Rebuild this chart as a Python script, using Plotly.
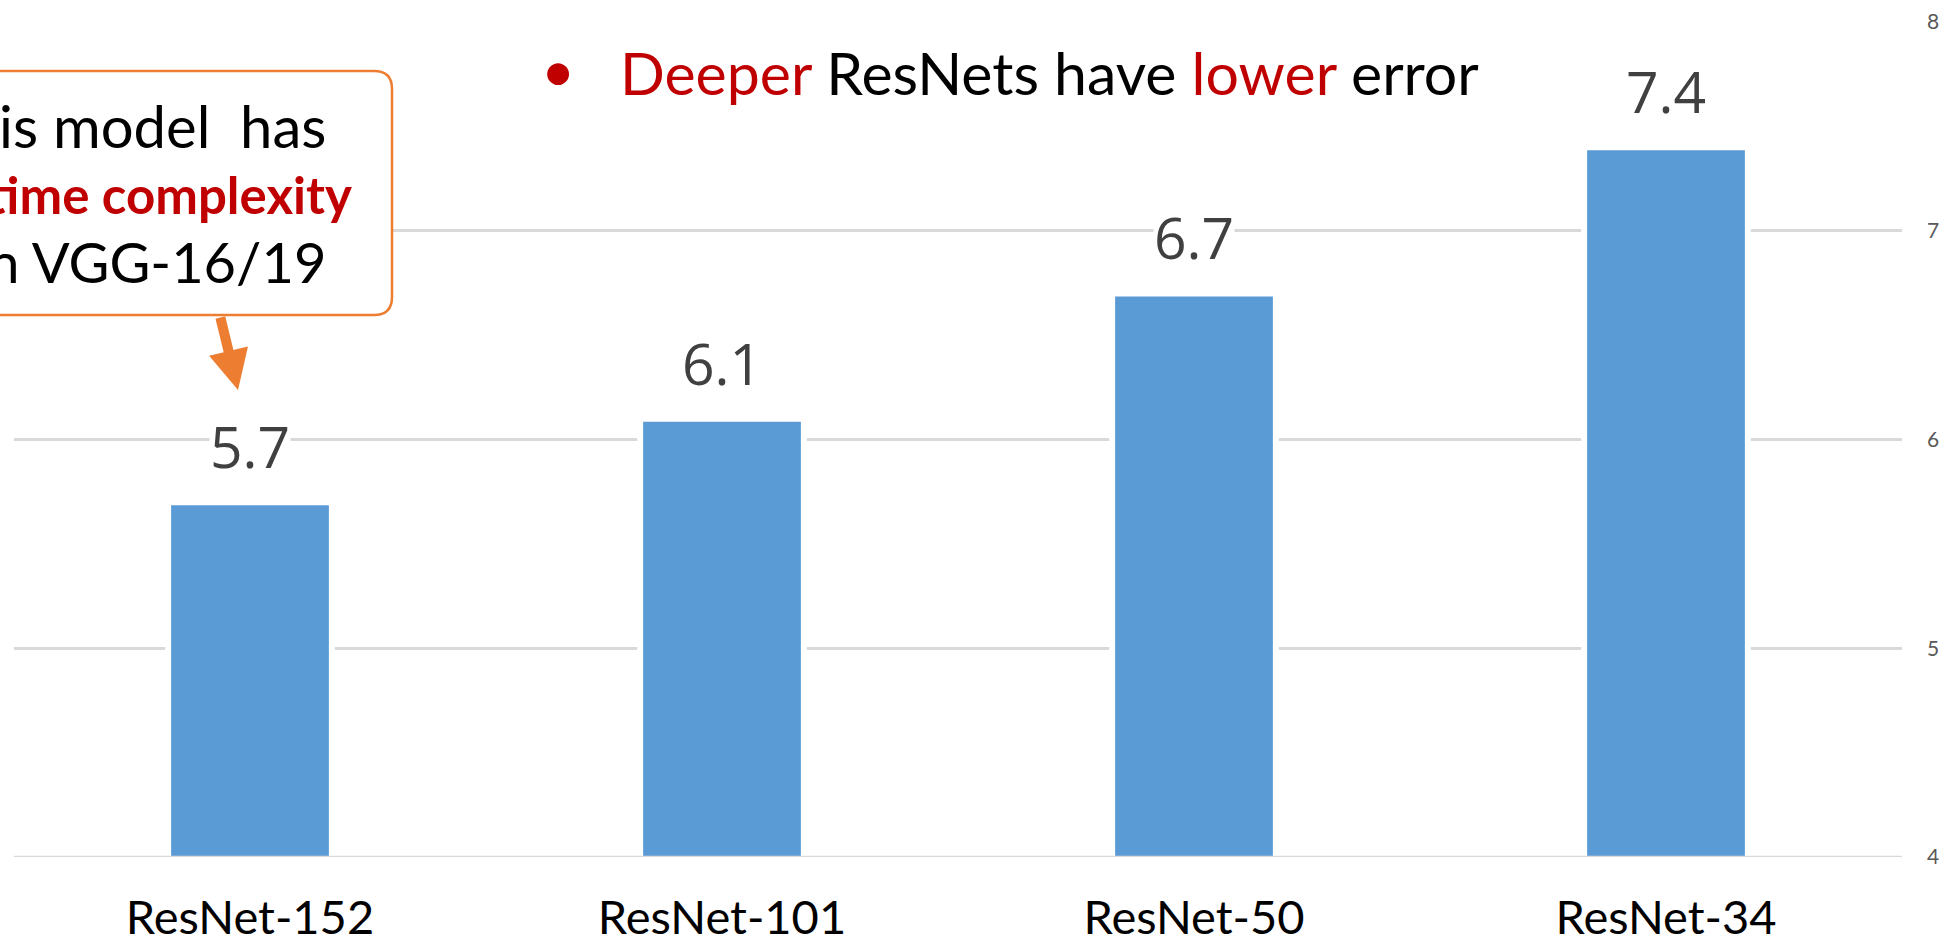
import plotly.graph_objects as go

# ImageNet top-5 error (%) by ResNet depth
models = ["ResNet-152", "ResNet-101", "ResNet-50", "ResNet-34"]
top5_error = [5.7, 6.1, 6.7, 7.4]
y_ticks = [4, 5, 6, 7, 8]

BAR_BLUE = "#5B9BD5"
GRID_GREY = "#D9D9D9"
ORANGE = "#ED7D31"
DARK_RED = "#C00000"

W, H = 1950, 945
M_L, M_R, M_T, M_B = 14, 48, 22, 88
PLOT_W = W - M_L - M_R
PLOT_H = H - M_T - M_B


def px(x):
    """Page pixel x -> paper coordinate."""
    return (x - M_L) / PLOT_W


def py(y):
    """Page pixel y -> paper coordinate."""
    return (H - M_B - y) / PLOT_H


fig = go.Figure(
    go.Bar(
        x=models,
        y=top5_error,
        base=0,
        marker=dict(color=BAR_BLUE, line=dict(color="white", width=6)),
        hoverinfo="skip",
    )
)

# value labels sitting above each bar on a white patch
for m, v in zip(models, top5_error):
    fig.add_annotation(
        x=m, y=v, xref="x", yref="y",
        text=f"{v:.1f}", showarrow=False,
        yanchor="middle", yshift=56,
        bgcolor="white", borderpad=0,
        font=dict(family="Open Sans", size=57, color="#404040"),
    )

# headline bullet
fig.add_annotation(
    x=px(558), y=py(70), xref="paper", yref="paper",
    text="•", showarrow=False, xanchor="center", yanchor="middle",
    font=dict(family="Lato", size=59, color=DARK_RED),
)
fig.add_annotation(
    x=px(618), y=py(73), xref="paper", yref="paper",
    text=(f"<span style='color:{DARK_RED}'>Deeper</span> ResNets have "
          f"<span style='color:{DARK_RED}'>lower</span> error"),
    showarrow=False, xanchor="left", yanchor="middle",
    font=dict(family="Lato", size=59, color="black"),
)

# callout box with rounded right corners
x0, x1, y0, y1, r = -60, 392, 71, 315, 18
box_path = (
    f"M {px(x0)},{py(y0)} L {px(x1 - r)},{py(y0)} "
    f"Q {px(x1)},{py(y0)} {px(x1)},{py(y0 + r)} "
    f"L {px(x1)},{py(y1 - r)} "
    f"Q {px(x1)},{py(y1)} {px(x1 - r)},{py(y1)} "
    f"L {px(x0)},{py(y1)} Z"
)
fig.add_shape(
    type="path", path=box_path, xref="paper", yref="paper",
    line=dict(color=ORANGE, width=2.5), fillcolor="white", layer="above",
)

callout_lines = [
    ("This model&nbsp;&nbsp;has", "black", False, 58, 328, 126),
    ("lower time complexity", DARK_RED, True, 51, 354, 194),
    ("than VGG-16/19", "black", False, 56, 328, 261),
]
for txt, col, bold, size, xr, yc in callout_lines:
    fig.add_annotation(
        x=px(xr), y=py(yc), xref="paper", yref="paper",
        text=f"<b>{txt}</b>" if bold else txt,
        showarrow=False, xanchor="right", yanchor="middle",
        font=dict(family="Lato", size=size, color=col),
    )

# pointer from the callout down to the ResNet-152 bar
fig.add_annotation(
    x=px(238), y=py(390), xref="paper", yref="paper",
    text="", showarrow=True,
    ax=-18, ay=-74, axref="pixel", ayref="pixel",
    arrowhead=2, arrowsize=0.8, arrowwidth=10, arrowcolor=ORANGE,
    standoff=0,
)

# baseline redrawn over the bar outlines
fig.add_shape(
    type="line", xref="paper", yref="y", x0=0, x1=1, y0=4, y1=4,
    line=dict(color=GRID_GREY, width=2.5), layer="above",
)

fig.update_layout(
    width=W, height=H, autosize=False,
    margin=dict(l=M_L, r=M_R, t=M_T, b=M_B, autoexpand=False),
    paper_bgcolor="white", plot_bgcolor="white",
    showlegend=False, bargap=0.653,
    xaxis=dict(
        type="category", showgrid=False, zeroline=False, showline=False,
        ticks="", ticklabelstandoff=29, automargin=False,
        tickfont=dict(family="Lato", size=47, color="black"),
    ),
    yaxis=dict(
        side="right", range=[4, 8], tickvals=y_ticks,
        showgrid=True, gridcolor=GRID_GREY, gridwidth=2.5,
        zeroline=False, showline=False, ticks="", ticklabelstandoff=24,
        automargin=False,
        tickfont=dict(family="Lato", size=21, color="#595959"),
    ),
)

fig.write_html("out.html")
